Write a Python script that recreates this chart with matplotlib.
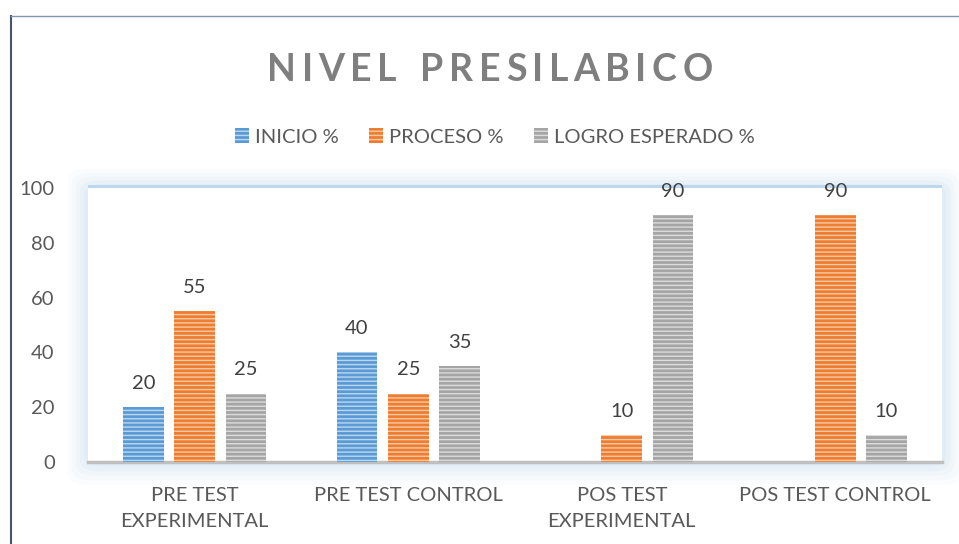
import matplotlib
matplotlib.use("Agg")
import matplotlib.pyplot as plt
import numpy as np
from matplotlib.patches import FancyBboxPatch, Rectangle
from matplotlib.lines import Line2D

categories = ["PRE TEST\nEXPERIMENTAL", "PRE TEST CONTROL", "POS TEST\nEXPERIMENTAL", "POS TEST CONTROL"]
series_names = ["INICIO %", "PROCESO %", "LOGRO ESPERADO %"]
inicio = [20, 40, 0, 0]
proceso = [55, 25, 10, 90]
logro = [25, 35, 90, 10]
yticks = [0, 20, 40, 60, 80, 100]
title = "NIVEL PRESILABICO"

colors = ["#5b9bd5", "#ed7d31", "#a5a5a5"]
hatch_colors = ["#bcd7f0", "#f8c9a6", "#dcdcdc"]

plt.rcParams['font.family'] = ['Lato', 'DejaVu Sans']
plt.rcParams['hatch.linewidth'] = 1.0

fig = plt.figure(figsize=(9.59, 5.44), dpi=100)
fig.patch.set_facecolor("white")

l, r, b, t = 88/959, 942/959, (544-462)/544, (544-188)/544

# glow behind plot area
for i, a in enumerate([0.05, 0.07, 0.09, 0.12, 0.16]):
    pad = (5 - i) * 0.007
    fig.patches.append(FancyBboxPatch((l - pad*0.6, b - pad*1.2), (r - l) + pad*1.2, (t - b) + pad*2.2,
                                      boxstyle="round,pad=0.0,rounding_size=0.02",
                                      transform=fig.transFigure, facecolor="#bdd7ee",
                                      edgecolor="none", alpha=a, zorder=0))
fig.patches.append(Rectangle((l, t), r - l, 0.006, transform=fig.transFigure,
                             facecolor="#bdd7ee", edgecolor="none", zorder=1))

ax = fig.add_axes([l, b, r - l, t - b])
ax.set_facecolor("white")
ax.set_zorder(2)

x = np.arange(len(categories))
w = 0.19
off = 0.24
data = [inicio, proceso, logro]
for i, vals in enumerate(data):
    xs = x + (i - 1) * off
    ax.bar(xs, vals, w, color=colors[i], edgecolor=hatch_colors[i], linewidth=0,
           hatch="----", label=series_names[i], zorder=3)
    for xi, v in zip(xs, vals):
        if v > 0:
            ax.text(xi, v + 5.5, f"{v}", ha="center", va="bottom", fontsize=14.5, color="#404040", zorder=4)

ax.set_xlim(-0.5, 3.5)
ax.set_ylim(0, 100)
ax.set_yticks(yticks)
ax.set_xticks(x)
ax.set_xticklabels(categories, fontsize=14.5, color="#595959", linespacing=1.65)
ax.tick_params(axis='y', labelsize=14.5, labelcolor="#595959", length=0, pad=24)
ax.tick_params(axis='x', length=0, pad=18)
for s in ["top", "right", "left"]:
    ax.spines[s].set_visible(False)
ax.spines["bottom"].set_color("#bfbfbf")
ax.spines["bottom"].set_linewidth(2.5)

leg = fig.legend(loc="center", bbox_to_anchor=(495/959, 1 - 137/544), ncol=3, frameon=False,
                 fontsize=14.5, labelcolor="#595959", handlelength=0.7, handleheight=0.7,
                 handletextpad=0.3, columnspacing=1.5)

# title with letter spacing, drawn char by char
fig.canvas.draw()
renderer = fig.canvas.get_renderer()
tracking = 5.5  # px between letters
tprops = dict(fontsize=27, fontweight="bold", color="#7f7f7f", va="center", ha="left")
widths = []
for ch in title:
    if ch == " ":
        tt = fig.text(0, 0, "N", **tprops)
        widths.append(tt.get_window_extent(renderer).width * 0.45)
    else:
        tt = fig.text(0, 0, ch, **tprops)
        widths.append(tt.get_window_extent(renderer).width)
    tt.remove()
total = sum(widths) + tracking * (len(title) - 1)
xpos = 490 - total / 2
ty = 1 - 70/544
for ch, wdt in zip(title, widths):
    if ch != " ":
        fig.text(xpos / 959, ty, ch, **tprops)
    xpos += wdt + tracking

# figure border
fig.add_artist(Line2D([11/959, 11/959], [0, 1 - 16/544], transform=fig.transFigure,
                      color="#44546a", linewidth=1.5))
fig.add_artist(Line2D([11/959, 1], [1 - 16/544, 1 - 16/544], transform=fig.transFigure,
                      color="#8496b0", linewidth=1.0))

fig.savefig("out.png", dpi=100)
